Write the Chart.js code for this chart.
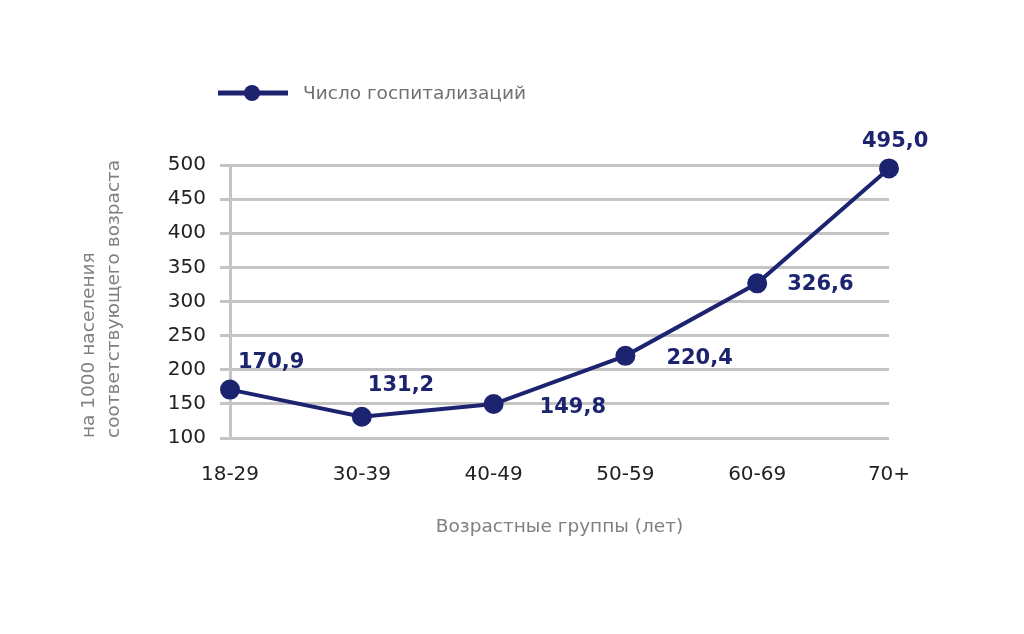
<!DOCTYPE html>
<html>
<head>
<meta charset="utf-8">
<script src="https://cdn.jsdelivr.net/npm/chart.js@4"></script>
<style>
  body { margin: 0; background: #fff; }
  canvas { display: block; }
</style>
</head>
<body>
<canvas id="chart" width="1024" height="634"></canvas>
<script>
const ageGroups = ['18-29', '30-39', '40-49', '50-59', '60-69', '70+'];
const hospitalizations = [170.9, 131.2, 149.8, 220.4, 326.6, 495.0];
const seriesName = 'Число госпитализаций';
const yTitle = ['на 1000 населения', 'соответствующего возраста'];
const xTitle = 'Возрастные группы (лет)';

const navy = '#1c2470';
const fontFamily = '"DejaVu Sans", sans-serif';

// label offsets from each point (left edge of text, vertical centre)
const labelOffsets = [[8, -27], [6, -31], [46, 4], [41, 3], [30, 1], [-27, -27]];

const valueLabels = {
    id: 'valueLabels',
    afterDatasetsDraw(chart) {
        const ctx = chart.ctx;
        const meta = chart.getDatasetMeta(0);
        ctx.save();
        ctx.font = 'bold 21px ' + fontFamily;
        ctx.fillStyle = navy;
        ctx.textAlign = 'left';
        ctx.textBaseline = 'middle';
        meta.data.forEach((pt, i) => {
            const v = chart.data.datasets[0].data[i];
            const txt = v.toFixed(1).replace('.', ',');
            ctx.fillText(txt, pt.x + labelOffsets[i][0], pt.y + labelOffsets[i][1]);
        });
        ctx.restore();
    }
};

const lineLegend = {
    id: 'lineLegend',
    afterDraw(chart) {
        const ctx = chart.ctx;
        ctx.save();
        ctx.strokeStyle = navy;
        ctx.lineWidth = 5;
        ctx.beginPath();
        ctx.moveTo(218, 93);
        ctx.lineTo(288, 93);
        ctx.stroke();
        ctx.fillStyle = navy;
        ctx.beginPath();
        ctx.arc(252, 93, 8, 0, Math.PI * 2);
        ctx.fill();
        ctx.fillStyle = '#707070';
        ctx.font = '18.5px ' + fontFamily;
        ctx.textBaseline = 'middle';
        ctx.fillText(chart.data.datasets[0].label, 303, 94);
        ctx.restore();
    }
};

new Chart(document.getElementById('chart'), {
    type: 'line',
    data: {
        labels: ageGroups,
        datasets: [{
            label: seriesName,
            data: hospitalizations,
            borderColor: navy,
            backgroundColor: navy,
            borderWidth: 4,
            pointRadius: 8,
            pointHoverRadius: 8,
            tension: 0,
            clip: false
        }]
    },
    options: {
        responsive: false,
        animation: false,
        devicePixelRatio: 1,
        layout: { padding: { top: 165, right: 135, bottom: 86, left: 0 } },
        plugins: {
            legend: { display: false },
            tooltip: { enabled: false }
        },
        scales: {
            x: {
                offset: false,
                grid: { display: false, drawTicks: false },
                border: { display: false },
                ticks: { color: '#222', font: { family: fontFamily, size: 20 }, padding: 25 },
                title: {
                    display: true,
                    text: xTitle,
                    color: '#808080',
                    font: { family: fontFamily, size: 18.5 },
                    padding: { top: 0, bottom: 10 }
                },
                afterFit(scale) { scale.height = 110; }
            },
            y: {
                min: 100,
                max: 500,
                ticks: { stepSize: 50, color: '#222', font: { family: fontFamily, size: 20 }, padding: 14 },
                grid: { color: '#c4c4c4', lineWidth: 3, tickLength: 10 },
                border: { color: '#c4c4c4', width: 3 },
                title: {
                    display: true,
                    text: yTitle,
                    align: 'start',
                    color: '#808080',
                    font: { family: fontFamily, size: 18.5, lineHeight: '25px' },
                    padding: { top: 77, bottom: 0 }
                },
                afterFit(scale) { scale.width = 230; }
            }
        }
    },
    plugins: [valueLabels, lineLegend]
});
</script>
</body>
</html>
